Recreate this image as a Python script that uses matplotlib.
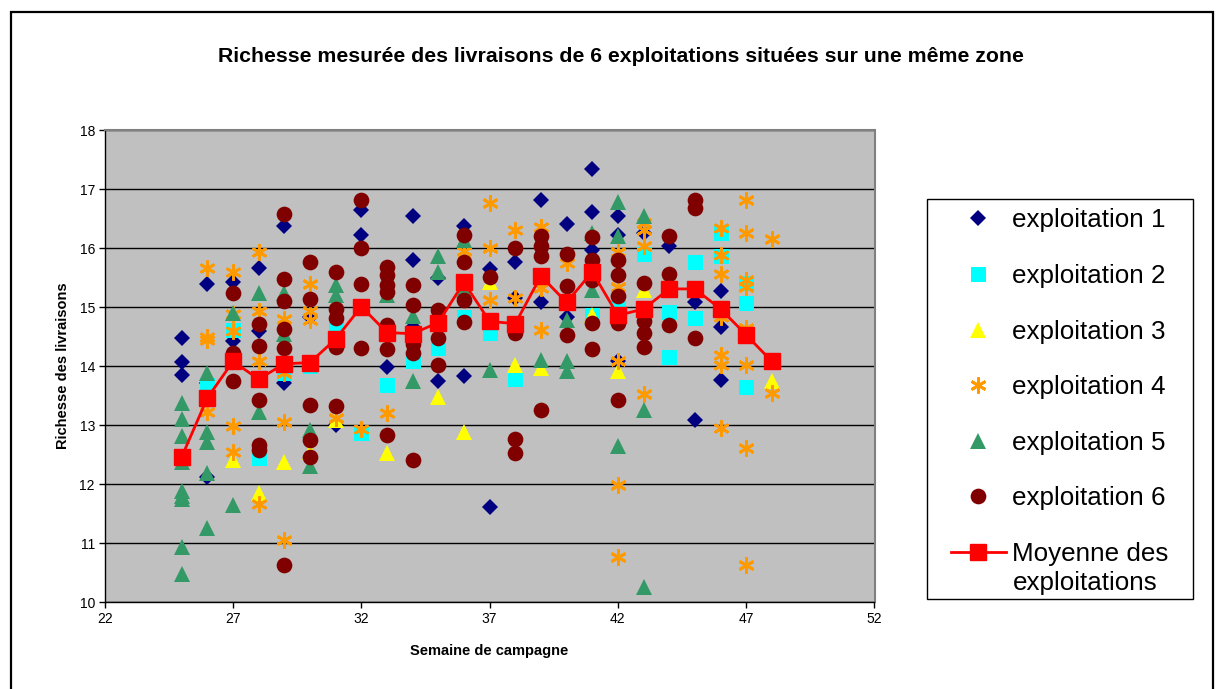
import matplotlib
matplotlib.use("Agg")
import matplotlib.pyplot as plt
from matplotlib.patches import Rectangle

plt.rcParams["font.family"] = ["Liberation Sans", "DejaVu Sans"]

# livraisons par exploitation : semaine de campagne / richesse mesurée
e1_weeks = [25, 25, 25, 26, 26, 26, 27, 27, 28, 28, 29, 29, 30, 31, 32, 32, 33, 34, 34, 34,
            35, 35, 36, 36, 37, 37, 38, 38, 39, 39, 40, 40, 41, 41, 41, 42, 42, 42, 43, 44,
            45, 45, 46, 46, 46]
e1_vals = [14.47, 14.07, 13.85, 15.39, 13.71, 12.12, 15.43, 14.42, 15.67, 14.59, 16.38, 13.71,
           14.84, 13.00, 16.65, 16.23, 13.99, 16.54, 15.80, 14.67, 15.50, 13.74, 16.37, 13.84,
           15.64, 11.61, 15.76, 15.15, 16.82, 15.09, 16.41, 14.84, 17.34, 16.61, 15.97, 16.54,
           16.23, 14.08, 16.25, 16.03, 15.09, 13.08, 15.28, 14.66, 13.77]

e2_weeks = [25, 26, 27, 28, 29, 30, 31, 32, 33, 34, 35, 36, 37, 38, 41, 42, 43, 44, 44, 45,
            45, 46, 46, 47, 47, 47]
e2_vals = [12.45, 13.68, 14.62, 12.44, 13.88, 14.00, 14.67, 12.86, 13.68, 14.08, 14.30, 14.84,
           14.56, 13.78, 14.87, 15.01, 15.91, 14.91, 14.16, 15.77, 14.82, 16.25, 15.86, 15.41,
           15.07, 13.64]

e3_weeks = [27, 28, 29, 30, 31, 33, 35, 36, 37, 38, 39, 41, 42, 43, 48]
e3_vals = [12.41, 11.85, 12.38, 12.55, 13.09, 12.53, 13.48, 12.89, 15.43, 14.02, 13.97, 14.87,
           13.91, 15.29, 13.74]

e4_weeks = [26, 26, 26, 26, 27, 27, 27, 27, 27, 28, 28, 28, 28, 29, 29, 29, 29, 30, 30, 30,
            31, 32, 33, 36, 37, 37, 37, 38, 38, 39, 39, 39, 40, 42, 42, 42, 42, 42, 43, 43,
            43, 43, 46, 46, 46, 46, 46, 46, 46, 47, 47, 47, 47, 47, 47, 47, 47, 48, 48]
e4_vals = [15.66, 14.50, 14.45, 13.23, 15.60, 14.88, 14.60, 12.98, 12.55, 15.94, 14.93, 14.08,
           11.67, 14.80, 13.88, 13.06, 11.05, 15.39, 14.93, 14.78, 13.12, 12.94, 13.20, 15.96,
           16.76, 16.00, 15.12, 16.31, 15.15, 16.36, 15.32, 14.62, 15.75, 15.94, 15.35, 14.08,
           11.99, 10.76, 16.42, 16.31, 16.04, 13.53, 16.34, 15.89, 15.56, 14.84, 14.19, 14.02,
           12.95, 16.82, 16.25, 15.46, 15.35, 14.64, 14.02, 12.62, 10.62, 16.15, 13.55]

e5_weeks = [25, 25, 25, 25, 25, 25, 25, 25, 25, 26, 26, 26, 26, 26, 27, 27, 28, 28, 29, 29,
            30, 30, 31, 31, 33, 34, 34, 35, 35, 36, 36, 37, 39, 40, 40, 40, 41, 41, 42, 42,
            42, 43, 43, 43]
e5_vals = [13.37, 13.10, 12.82, 12.38, 11.88, 11.80, 11.75, 10.93, 10.47, 13.88, 12.89, 12.72,
           12.19, 11.25, 14.90, 11.65, 15.24, 13.23, 15.24, 14.55, 12.92, 12.30, 15.38, 15.21,
           15.20, 14.85, 13.74, 15.86, 15.60, 16.14, 15.29, 13.94, 14.11, 14.78, 14.08, 13.91,
           16.25, 15.29, 16.79, 16.20, 12.64, 16.54, 13.25, 10.25]

e6_weeks = [27, 27, 27, 28, 28, 28, 28, 28, 29, 29, 29, 29, 29, 29, 30, 30, 30, 30, 30, 31,
            31, 31, 31, 31, 32, 32, 32, 32, 33, 33, 33, 33, 33, 33, 33, 34, 34, 34, 34, 34,
            35, 35, 35, 36, 36, 36, 36, 37, 38, 38, 38, 38, 39, 39, 39, 39, 40, 40, 40, 41,
            41, 41, 41, 41, 42, 42, 42, 42, 42, 43, 43, 43, 43, 44, 44, 44, 45, 45, 45]
e6_vals = [15.24, 14.22, 13.74, 14.72, 14.34, 13.43, 12.67, 12.58, 16.58, 15.48, 15.11, 14.63,
           14.30, 10.63, 15.76, 15.14, 13.34, 12.75, 12.46, 15.60, 14.97, 14.81, 14.33, 13.33,
           16.82, 16.00, 15.39, 14.30, 15.69, 15.55, 15.38, 15.25, 14.70, 14.29, 12.84, 15.38,
           15.03, 14.38, 14.22, 12.41, 14.95, 14.47, 14.02, 16.23, 15.77, 15.12, 14.75, 15.52,
           16.01, 14.56, 12.76, 12.53, 16.21, 16.04, 15.86, 13.26, 15.91, 15.36, 14.53, 16.19,
           15.80, 15.46, 14.73, 14.29, 15.80, 15.55, 15.19, 14.73, 13.43, 15.41, 14.76, 14.56,
           14.32, 16.21, 15.56, 14.70, 16.82, 16.68, 14.47]

mean_weeks = list(range(25, 49))
mean_vals = [12.46, 13.46, 14.08, 13.78, 14.04, 14.06, 14.46, 15.01, 14.57, 14.55, 14.74, 15.42,
             14.76, 14.72, 15.53, 15.08, 15.60, 14.86, 14.97, 15.31, 15.31, 14.97, 14.53, 14.08]

series = [
    ("exploitation 1", e1_weeks, e1_vals, dict(marker="D", ms=8.3, color="#000080")),
    ("exploitation 2", e2_weeks, e2_vals, dict(marker="s", ms=10.8, color="#00FFFF")),
    ("exploitation 3", e3_weeks, e3_vals, dict(marker="^", ms=11.5, color="#FFFF00")),
    ("exploitation 4", e4_weeks, e4_vals, dict(marker=(6, 2, 0), ms=11.5, color="#FF9900",
                                               mew=2.0)),
    ("exploitation 5", e5_weeks, e5_vals, dict(marker="^", ms=11.5, color="#339966")),
    ("exploitation 6", e6_weeks, e6_vals, dict(marker="o", ms=11.3, color="#800000")),
]

W, H = 1219, 689
fig = plt.figure(figsize=(W / 100, H / 100), dpi=100)
fig.patch.set_facecolor("white")

# cadre noir autour du graphique
fig.patches.append(Rectangle((11 / W, -0.05), 1202 / W, 1.05 - 12 / H, transform=fig.transFigure,
                             fill=False, edgecolor="black", lw=1.6))

ax = fig.add_axes([104.7 / W, 87 / H, 769.8 / W, 471.7 / H])
ax.set_facecolor("#C0C0C0")

handles = []
for label, wk, vals, st in series:
    st = dict(st)
    mew = st.pop("mew", 0)
    h, = ax.plot(wk, vals, ls="none", marker=st["marker"], ms=st["ms"], mfc=st["color"],
                 mec=st["color"], mew=mew, label=label)
    handles.append(h)

hm, = ax.plot(mean_weeks, mean_vals, color="#FF0000", lw=2, marker="s", ms=11.5,
              mfc="#FF0000", mec="#FF0000", label="Moyenne des")
handles.append(hm)

ax.set_xlim(22, 52)
ax.set_ylim(10, 18)
ax.set_xticks(range(22, 53, 5))
ax.set_yticks(range(10, 19))
ax.tick_params(direction="out", length=4, width=1, labelsize=10, pad=3)
ax.yaxis.grid(True, color="black", lw=1)
ax.set_axisbelow(True)
for side in ("top", "right"):
    ax.spines[side].set_color("#808080")
    ax.spines[side].set_linewidth(1.5)
for side in ("left", "bottom"):
    ax.spines[side].set_color("black")
    ax.spines[side].set_linewidth(1)

ax.set_xlabel("Semaine de campagne", fontsize=10.5, fontweight="bold", labelpad=13)
ax.set_ylabel("Richesse des livraisons", fontsize=10.5, fontweight="bold", labelpad=7)

fig.text(620.5 / W, 1 - 56 / H, "Richesse mesurée des livraisons de 6 exploitations situées "
         "sur une même zone", ha="center", va="center", fontsize=15.3, fontweight="bold")

# légende : cadre dessiné à part, libellé de la moyenne sur deux lignes
fig.patches.append(Rectangle((926.7 / W, 1 - 599 / H), 266 / W, 400 / H,
                             transform=fig.transFigure, fill=False, edgecolor="black", lw=1))
fig.legend(handles=handles, loc="upper left", bbox_to_anchor=(951 / W, 1 - 208.5 / H),
           frameon=False, fontsize=18.7, handlelength=2.1, handletextpad=0.25,
           labelspacing=1.215, borderpad=0, borderaxespad=0)
fig.text(1013 / W, 1 - 583 / H, "exploitations", ha="left", va="center", fontsize=18.7)

fig.savefig("out.png", dpi=100)
